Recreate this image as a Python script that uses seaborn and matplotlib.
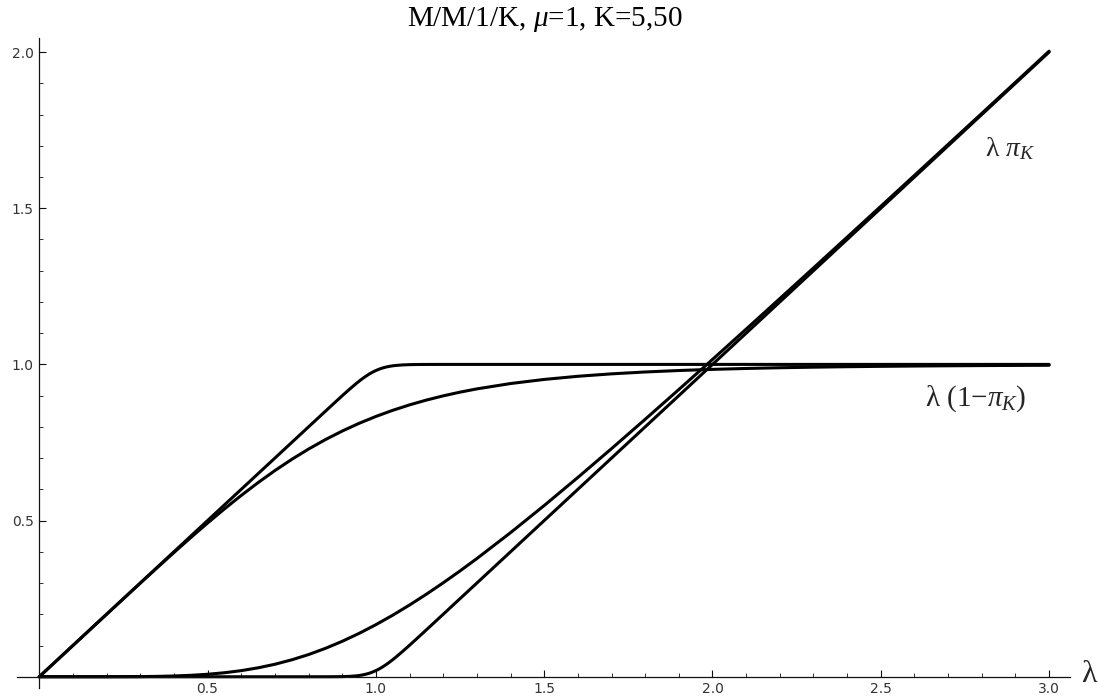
import numpy as np
import pandas as pd
import matplotlib
matplotlib.use("Agg")
import matplotlib.pyplot as plt
import seaborn as sns
from matplotlib.ticker import MultipleLocator, FuncFormatter

# ---- data ----
lam_k5 = [0.0, 0.1, 0.2, 0.3, 0.35, 0.4, 0.45, 0.5, 0.55, 0.6, 0.65, 0.7, 0.75, 0.8, 0.85,
          0.9, 0.95, 1.0, 1.05, 1.1, 1.15, 1.2, 1.25, 1.3, 1.4, 1.5,
          1.6, 1.7, 1.8, 1.9, 2.0, 2.1, 2.2, 2.3, 2.4, 2.5, 2.6, 2.7, 2.8, 2.9, 3.0]
blocked_k5 = [0.0, 0.0, 0.00005, 0.00051, 0.0012, 0.00247, 0.00461, 0.00794, 0.01281, 0.01958,
              0.02855, 0.0400, 0.05413, 0.07106, 0.09083, 0.11342, 0.13875,
              0.16667, 0.19702, 0.22961, 0.26424, 0.30071, 0.33882, 0.37839, 0.46126, 0.54812,
              0.63803, 0.73025, 0.82423,
              0.91955, 1.01587, 1.11298, 1.21068, 1.30884, 1.40735, 1.50617, 1.60519, 1.7044,
              1.80374, 1.9032, 2.00275]
served_k5 = [0.0, 0.1, 0.19995, 0.29949, 0.3488, 0.39753, 0.4454, 0.49206, 0.53719, 0.58042,
             0.62145, 0.66, 0.69587, 0.72894, 0.75917, 0.78658, 0.81126,
             0.83333, 0.85298, 0.87039, 0.88576, 0.89929, 0.91118, 0.92161, 0.93874, 0.95188,
             0.96197, 0.96975, 0.97577,
             0.98045, 0.98413, 0.98702, 0.98932, 0.99116, 0.99265, 0.99383, 0.99481, 0.9956,
             0.99626, 0.9968, 0.99725]

lam_k50 = [0.0, 0.5, 0.8, 0.85, 0.88, 0.9, 0.92, 0.94, 0.95, 0.96, 0.97, 0.98, 0.99, 1.0,
           1.01, 1.02, 1.03, 1.04, 1.05, 1.06, 1.08, 1.1, 1.12, 1.15, 1.2, 1.3, 2.0, 3.0]
blocked_k50 = [0.0, 0.0, 0.0, 0.00004, 0.00018, 0.00047, 0.00116, 0.00267, 0.00394, 0.0057,
               0.00805, 0.0111, 0.01494, 0.01961, 0.02513, 0.03146, 0.03853, 0.04626, 0.05453,
               0.06324, 0.08161, 0.10078, 0.12037, 0.15012, 0.20002, 0.3, 1.0, 2.0]
served_k50 = [0.0, 0.5, 0.8, 0.84996, 0.87982, 0.89953, 0.91884, 0.93733, 0.94606, 0.9543,
              0.96195, 0.9689, 0.97506, 0.98039, 0.98487, 0.98854, 0.99147, 0.99374, 0.99547,
              0.99676, 0.99839, 0.99922, 0.99963, 0.99988, 0.99998, 1.0, 1.0, 1.0]

x_ticks = [0.5, 1.0, 1.5, 2.0, 2.5, 3.0]
y_ticks = [0.5, 1.0, 1.5, 2.0]

title = r"M/M/1/K, $\mu$=1, K=5,50"
label_blocked = r"λ $\pi_K$"
label_served = r"λ (1$-\pi_K$)"

# ---- styling ----
sns.set_theme(style="white")
plt.rcParams["font.family"] = ["DejaVu Sans"]
plt.rcParams["mathtext.fontset"] = "custom"
plt.rcParams["mathtext.rm"] = "Liberation Serif"
plt.rcParams["mathtext.it"] = "Liberation Serif:italic"
plt.rcParams["mathtext.default"] = "it"

fig = plt.figure(figsize=(10.99, 6.98), dpi=100)
W, H = 1099, 698
left_px, right_px, top_px, bot_px = 17, 1070, 38, 688
ax = fig.add_axes([left_px / W, (H - bot_px) / H, (right_px - left_px) / W, (bot_px - top_px) / H])
ax.set_xlim(-0.066, 3.062)
ax.set_ylim(-0.036, 2.045)

curves = [(lam_k5, blocked_k5), (lam_k5, served_k5), (lam_k50, blocked_k50), (lam_k50, served_k50)]
for xs, ys in curves:
    sns.lineplot(x=xs, y=ys, ax=ax, color="black", linewidth=2.2, sort=False,
                 estimator=None, solid_capstyle="round", solid_joinstyle="round")

for s in ["top", "right"]:
    ax.spines[s].set_visible(False)
for s in ["left", "bottom"]:
    ax.spines[s].set_position(("data", 0))
    ax.spines[s].set_color("#111111")
    ax.spines[s].set_linewidth(0.9)

ax.set_xticks(x_ticks)
ax.set_yticks(y_ticks)
ax.xaxis.set_minor_locator(MultipleLocator(0.1))
ax.yaxis.set_minor_locator(MultipleLocator(0.1))
fmt = FuncFormatter(lambda v, p: f"{v:.1f}")
ax.xaxis.set_major_formatter(fmt)
ax.yaxis.set_major_formatter(fmt)
ax.tick_params(which="major", direction="in", length=5, width=0.8, color="#111111",
               labelsize=10, labelcolor="#333333", pad=4)
ax.tick_params(which="minor", direction="in", length=3, width=0.6, color="#111111")
ax.tick_params(axis="x", which="both", bottom=True, top=False)
ax.tick_params(axis="y", which="both", left=True, right=False)
ax.grid(False)

serif = ["Liberation Serif", "DejaVu Serif"]
fig.text(545 / W, 1 - 20 / H, title, ha="center", va="center", fontsize=21, family=serif,
         color="black")
fig.text(1081 / W, 1 - 675 / H, "λ", ha="left", va="center", fontsize=23, family=serif)
ax.text(2.81, 1.69, label_blocked, ha="left", va="center", fontsize=20, family=serif)
ax.text(2.63, 0.89, label_served, ha="left", va="center", fontsize=21, family=serif)

fig.savefig("out.png", dpi=100, facecolor="white")
